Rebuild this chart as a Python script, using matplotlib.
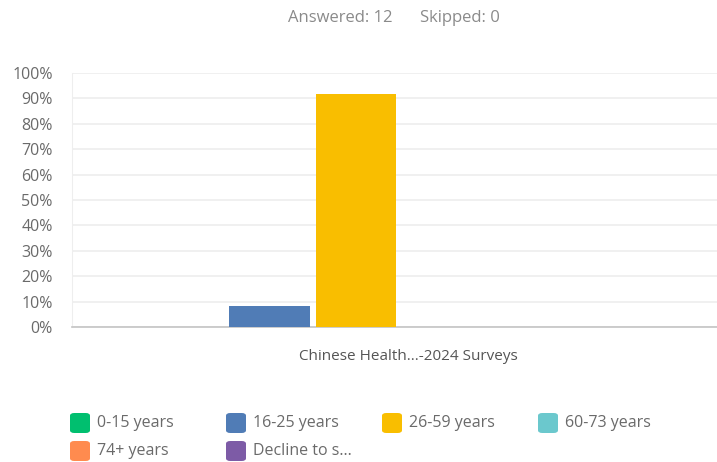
import matplotlib
matplotlib.use("Agg")
import matplotlib.pyplot as plt
from matplotlib.patches import FancyBboxPatch
import matplotlib.transforms as mtransforms

# Survey results: share of respondents by age group
category = "Chinese Health...-2024 Surveys"
series_names = ["0-15 years", "16-25 years", "26-59 years", "60-73 years",
                "74+ years", "Decline to s..."]
series_values = [0.0, 8.33, 91.67, 0.0, 0.0, 0.0]
series_colors = ["#00BF6F", "#507CB6", "#F9BE00", "#6BC8CD", "#FF8B4F", "#7D5BA6"]
y_ticks = [0, 10, 20, 30, 40, 50, 60, 70, 80, 90, 100]
answered = 12
skipped = 0

W, H = 717, 462
plt.rcParams["font.family"] = ["Open Sans", "DejaVu Sans"]
fig = plt.figure(figsize=(W / 100, H / 100), dpi=100)

# plot area in pixels: left 72, right 717, bottom 327, top 73
ax = fig.add_axes([72 / W, 1 - 327 / H, (717 - 72) / W, (327 - 73) / H])

step = 1.0
width = 80.3 / 86.7
n = len(series_values)
for i, (v, c) in enumerate(zip(series_values, series_colors)):
    ax.bar((i - (n - 1) / 2) * step, v, width=width, color=c, zorder=3)

px_per_unit = 86.7
ax.set_xlim((72 - 399.7) / px_per_unit, (717 - 399.7) / px_per_unit)
ax.set_ylim(0, 100)

ax.set_yticks(y_ticks)
ax.set_yticklabels([f"{t}%" for t in y_ticks])
ax.yaxis.grid(True, color="#eeeeee", linewidth=1.2, zorder=0)
ax.set_axisbelow(True)

ax.set_xticks([0])
ax.set_xticklabels([category])
ax.tick_params(axis="x", length=0, pad=16, labelsize=11, colors="#555555")
ax.tick_params(axis="y", length=0, pad=14, labelsize=11.5, colors="#6a6a6a")
for lbl in ax.get_xticklabels():
    lbl.set_transform(lbl.get_transform() +
                      mtransforms.ScaledTranslation(9 / 100, 0, fig.dpi_scale_trans))

for side in ["top", "right"]:
    ax.spines[side].set_visible(False)
ax.spines["left"].set_color("#eeeeee")
ax.spines["bottom"].set_color("#c4c4c4")
ax.spines["bottom"].set_linewidth(1.2)

# header
fig.text(288 / W, 1 - 18 / H, f"Answered: {answered}",
         ha="left", va="center", fontsize=12, color="#8a8a8a")
fig.text(420 / W, 1 - 18 / H, f"Skipped: {skipped}",
         ha="left", va="center", fontsize=12, color="#8a8a8a")

# legend: 4 columns, rounded swatches
col_x = [70, 226, 382, 538]
row_y = [423, 451]
sw = 20
for i, (name, c) in enumerate(zip(series_names, series_colors)):
    r, col = divmod(i, 4)
    x0 = col_x[col]
    yc = row_y[r]
    patch = FancyBboxPatch((x0 / W, 1 - (yc + sw / 2) / H), sw / W, sw / H,
                           boxstyle="round,pad=0,rounding_size=0.006",
                           transform=fig.transFigure, facecolor=c,
                           edgecolor="none")
    fig.patches.append(patch)
    fig.text((x0 + 27) / W, 1 - yc / H, name, ha="left", va="center",
             fontsize=11.5, color="#6a6a6a")

fig.savefig("out.png", dpi=100, facecolor="white")
